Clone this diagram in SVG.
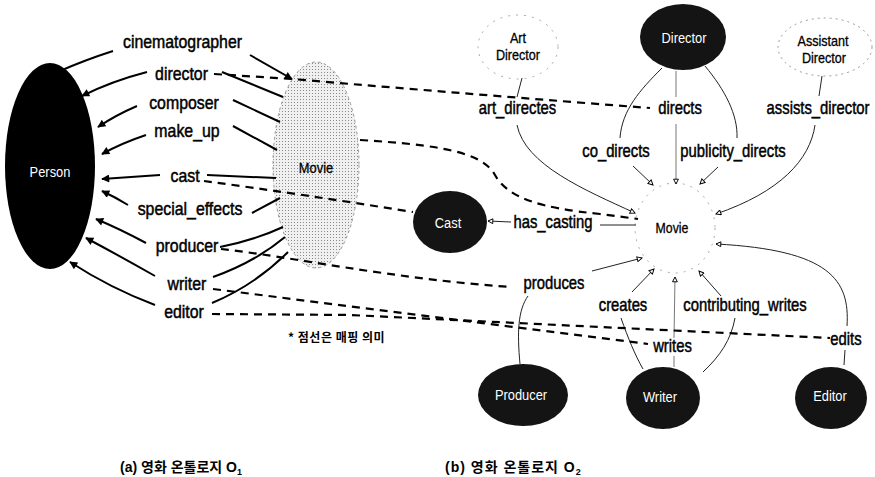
<svg xmlns="http://www.w3.org/2000/svg" width="875" height="477" viewBox="0 0 875 477">
  <style>
    .lbl { font-family: "Liberation Sans", Arial, sans-serif; font-size: 19px; fill: #000; stroke: #000; stroke-width: 0.5px; text-anchor: middle; }
    .lbr { font-family: "Liberation Sans", Arial, sans-serif; font-size: 18.5px; fill: #000; stroke: #000; stroke-width: 0.5px; text-anchor: middle; }
    .nt { font-family: "Liberation Sans", Arial, sans-serif; font-size: 14px; text-anchor: middle; }
    .wt { fill: #fff; }
    .bt { fill: #000; stroke: #000; stroke-width: 0.3px; }
    .blk { fill: #141414; }
    .faint { fill: #fff; stroke: #a8a8a8; stroke-width: 1; stroke-dasharray: 2 6; }
    .rel { fill: none; stroke: #000; stroke-width: 2; }
    .thin { fill: none; stroke: #222; stroke-width: 1; }
    .vfaint { fill: none; stroke: #777; stroke-width: 1; }
    .map { fill: none; stroke: #000; stroke-width: 2.2; stroke-dasharray: 8 6; }
    .cap { font-family: "Liberation Sans", "Noto Sans CJK KR", sans-serif; font-size: 14px; font-weight: bold; fill: #000; }
    .note { font-family: "Noto Sans CJK KR", sans-serif; font-size: 12px; font-weight: bold; letter-spacing: 0.5px; fill: #000; }
  </style>
  <defs>
    <marker id="ah" viewBox="0 0 10 10" refX="9" refY="5" markerWidth="11" markerHeight="8" markerUnits="userSpaceOnUse" orient="auto">
      <path d="M0,0 L10,5 L0,10 z" fill="#000"/>
    </marker>
    <marker id="oh" viewBox="0 0 10 10" refX="9" refY="5" markerWidth="7" markerHeight="6" markerUnits="userSpaceOnUse" orient="auto">
      <path d="M1,1 L9,5 L1,9 z" fill="#fff" stroke="#000" stroke-width="1.6"/>
    </marker>
    <pattern id="stipple" width="3" height="3" patternUnits="userSpaceOnUse">
      <rect width="3" height="3" fill="#f0f0f0"/>
      <rect width="1" height="1" fill="#8a8a8a"/>
    </pattern>
  </defs>

  <rect width="875" height="477" fill="#fff"/>

  <!-- ontology O1 -->
  <g id="person">
    <ellipse cx="50" cy="166" rx="45" ry="103" fill="#000"/>
    <text class="nt wt" transform="translate(50,177) scale(.92,1)" font-size="15">Person</text>
  </g>
  <g id="movie-o1">
    <ellipse cx="316" cy="165" rx="43" ry="103" fill="url(#stipple)" stroke="#9a9a9a" stroke-width="1" stroke-dasharray="3 3"/>
    <text class="nt bt" transform="translate(316,173) scale(.92,1)" font-size="15">Movie</text>
  </g>

  <!-- ontology O2 -->
  <g id="art-director">
    <ellipse class="faint" cx="518" cy="47" rx="40" ry="32"/>
    <text class="nt bt" transform="translate(518,43) scale(.9,1)">Art</text>
    <text class="nt bt" transform="translate(518,60) scale(.9,1)">Director</text>
  </g>
  <g id="director">
    <ellipse class="blk" cx="683" cy="37" rx="43" ry="33"/>
    <text class="nt wt" transform="translate(684,43) scale(.92,1)">Director</text>
  </g>
  <g id="assistant-director">
    <ellipse cx="825" cy="47" rx="47" ry="29" fill="#fff" stroke="#999" stroke-width="1" stroke-dasharray="2 4"/>
    <text class="nt bt" transform="translate(823,46) scale(.9,1)">Assistant</text>
    <text class="nt bt" transform="translate(824,63) scale(.9,1)">Director</text>
  </g>
  <g id="movie-o2">
    <ellipse class="faint" cx="675" cy="228" rx="40" ry="45"/>
    <text class="nt bt" transform="translate(672,233) scale(.88,1)">Movie</text>
  </g>
  <g id="cast">
    <ellipse class="blk" cx="450" cy="222" rx="37" ry="31"/>
    <text class="nt wt" transform="translate(448,228) scale(.92,1)">Cast</text>
  </g>
  <g id="producer">
    <ellipse class="blk" cx="523" cy="395" rx="45" ry="31"/>
    <text class="nt wt" transform="translate(521,400) scale(.92,1)">Producer</text>
  </g>
  <g id="writer">
    <ellipse class="blk" cx="663" cy="398" rx="37" ry="31"/>
    <text class="nt wt" transform="translate(660,402) scale(.92,1)">Writer</text>
  </g>
  <g id="editor">
    <ellipse class="blk" cx="831" cy="398" rx="36" ry="31"/>
    <text class="nt wt" transform="translate(830,401) scale(.92,1)">Editor</text>
  </g>

  <g id="connectors">
    <!-- O1 relations: label to Person -->
    <path class="rel" d="M113 51 Q 85 60 60 71"/>
    <path class="rel" d="M147 72 Q 112 81 82 96" marker-end="url(#ah)"/>
    <path class="rel" d="M137 106 Q 116 115 98 127" marker-end="url(#ah)"/>
    <path class="rel" d="M146 135 Q 122 143 102 154" marker-end="url(#ah)"/>
    <path class="rel" d="M160 175 L 102 179" marker-end="url(#ah)"/>
    <path class="rel" d="M128 205 Q 115 197 102 191" marker-end="url(#ah)"/>
    <path class="rel" d="M146 243 Q 120 229 96 219" marker-end="url(#ah)"/>
    <path class="rel" d="M155 276 Q 118 255 86 238" marker-end="url(#ah)"/>
    <path class="rel" d="M155 305 Q 110 288 70 262" marker-end="url(#ah)"/>
    <!-- O1 relations: label to Movie -->
    <path class="rel" d="M250 55 L 292 79" marker-end="url(#ah)"/>
    <path class="rel" d="M222 72 L 283 97"/>
    <path class="rel" d="M233 100 L 280 122"/>
    <path class="rel" d="M233 126 L 277 150"/>
    <path class="rel" d="M207 175 L 276 178"/>
    <path class="rel" d="M252 213 L 280 198"/>
    <path class="rel" d="M220 247 Q 255 240 283 227"/>
    <path class="rel" d="M213 277 Q 255 262 285 237"/>
    <path class="rel" d="M212 303 Q 255 285 288 252"/>

    <!-- O2 relations -->
    <path class="thin" d="M522 78 L 517 97"/>
    <path class="thin" d="M517 125 C 525 165, 585 190, 635 213" marker-end="url(#oh)"/>
    <path class="thin" d="M662 68 C 640 90, 622 110, 620 138"/>
    <path class="thin" d="M633 166 L 653 185" marker-end="url(#oh)"/>
    <path class="vfaint" d="M676 71 L 676 97"/>
    <path class="vfaint" d="M676 124 L 676 184" marker-end="url(#oh)"/>
    <path class="thin" d="M705 66 C 725 90, 738 115, 737 138"/>
    <path class="thin" d="M718 167 L 700 184" marker-end="url(#oh)"/>
    <path class="thin" d="M822 76 L 819 96"/>
    <path class="thin" d="M815 125 C 810 160, 780 192, 716 214" marker-end="url(#oh)"/>
    <path class="thin" d="M636 225 L 600 225"/>
    <path class="thin" d="M511 222 L 488 221" marker-end="url(#oh)"/>
    <path class="thin" d="M528 296 C 518 310, 517 332, 520 364"/>
    <path class="thin" d="M592 271 L 642 258" marker-end="url(#oh)"/>
    <path class="thin" d="M632 292 L 654 269" marker-end="url(#oh)"/>
    <path class="thin" d="M621 318 C 628 338, 635 355, 643 369"/>
    <path class="vfaint" d="M674 367 L 674 356"/>
    <path class="vfaint" d="M674 338 L 675 277" marker-end="url(#oh)"/>
    <path class="thin" d="M721 296 L 699 271" marker-end="url(#oh)"/>
    <path class="thin" d="M735 318 C 731 340, 720 356, 703 372"/>
    <path class="thin" d="M847 326 C 850 280, 830 250, 716 244" marker-end="url(#oh)"/>
    <path class="thin" d="M845 350 L 844 365"/>

    <!-- mappings between O1 and O2 -->
    <path class="map" d="M214 74 L 292 79 Q 480 95 650 108"/>
    <path class="map" d="M204 181 Q 300 194 413 212"/>
    <path class="map" d="M360 140 C 440 145, 482 152, 495 175 S 540 208, 600 214 L 638 219"/>
    <path class="map" d="M221 249 C 280 255, 400 280, 512 287"/>
    <path class="map" d="M213 289 L 648 344"/>
    <path class="map" d="M212 314 L 350 315 L 830 338"/>

    <!-- relation labels, O1 -->
    <text class="lbl" transform="translate(182.5,48) scale(.835,1)">cinematographer</text>
    <text class="lbl" transform="translate(181.5,80) scale(.835,1)">director</text>
    <text class="lbl" transform="translate(184,109) scale(.835,1)">composer</text>
    <text class="lbl" transform="translate(187,137) scale(.835,1)">make_up</text>
    <text class="lbl" transform="translate(185,182) scale(.835,1)">cast</text>
    <text class="lbl" transform="translate(190,215) scale(.835,1)">special_effects</text>
    <text class="lbl" transform="translate(187,252) scale(.835,1)">producer</text>
    <text class="lbl" transform="translate(187,290) scale(.835,1)">writer</text>
    <text class="lbl" transform="translate(184,318) scale(.835,1)">editor</text>

    <!-- relation labels, O2 -->
    <text class="lbr" transform="translate(517.5,114) scale(.8,1)">art_directes</text>
    <text class="lbr" transform="translate(680,114) scale(.8,1)">directs</text>
    <text class="lbr" transform="translate(818,114) scale(.8,1)">assists_director</text>
    <text class="lbr" transform="translate(616,157) scale(.8,1)">co_directs</text>
    <text class="lbr" transform="translate(733,157) scale(.8,1)">publicity_directs</text>
    <text class="lbr" transform="translate(553,228) scale(.8,1)">has_casting</text>
    <text class="lbr" transform="translate(554,289) scale(.8,1)">produces</text>
    <text class="lbr" transform="translate(623,311) scale(.8,1)">creates</text>
    <text class="lbr" transform="translate(745,311) scale(.8,1)">contributing_writes</text>
    <text class="lbr" transform="translate(672.5,352) scale(.8,1)">writes</text>
    <text class="lbr" transform="translate(846,345) scale(.8,1)">edits</text>
  </g>

  <text class="note" x="288" y="342">* 점선은 매핑 의미</text>

  <text class="cap" x="120" y="472">(a) 영화 온톨로지 O<tspan font-size="9" dy="3">1</tspan></text>
  <text class="cap" x="445" y="472" letter-spacing="1">(b) 영화 온톨로지 O<tspan font-size="9" dy="3">2</tspan></text>
</svg>
